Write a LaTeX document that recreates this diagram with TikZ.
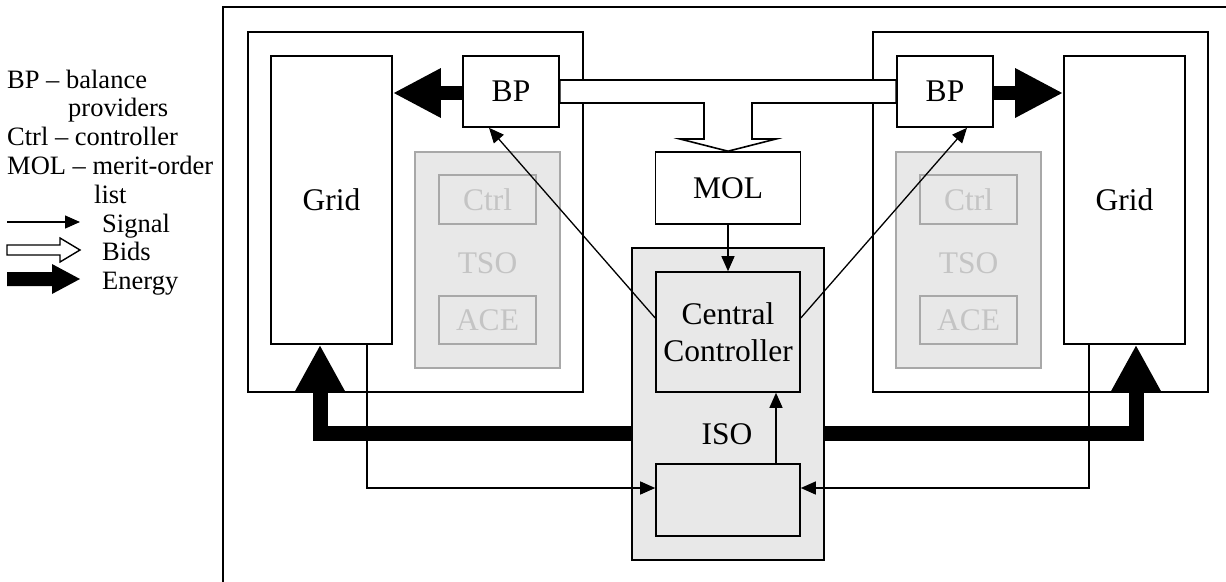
\documentclass[tikz,border=0pt]{standalone}
\usepackage{fontspec}
\setmainfont{Liberation Serif}
\usetikzlibrary{arrows.meta}
\definecolor{panel}{HTML}{E8E8E8}
\definecolor{faintline}{HTML}{A8A8A8}
\definecolor{fainttext}{HTML}{C4C4C4}
\newcommand\diagfont{\fontsize{31.5}{37}\selectfont}
\newcommand\legfont{\fontsize{26.5}{29}\selectfont}
\begin{document}
\begin{tikzpicture}[x=1pt,y=-1pt,
  blk/.style={draw, line width=1.6pt, fill=white, inner sep=0pt, font=\diagfont},
  frm/.style={draw, line width=1.8pt, fill=white, inner sep=0pt},
  isobox/.style={draw, line width=1.6pt, fill=panel, inner sep=0pt, font=\diagfont, align=center},
  gbox/.style={draw=faintline, line width=1.6pt, fill=panel, inner sep=0pt},
  gin/.style={draw=faintline, line width=1.6pt, fill=panel, inner sep=0pt, text=fainttext, font=\diagfont},
  gtxt/.style={text=fainttext, font=\diagfont, inner sep=0pt},
  lgd/.style={font=\legfont, inner sep=0pt, anchor=base west},
  sig/.style={line width=1.3pt, -{Triangle[length=15pt,width=13pt]}},
  bigflow/.style={line width=15pt, line join=miter, -{Triangle[length=47pt,width=47pt]}},
  bpflow/.style={line width=14pt, -{Triangle[length=48pt,width=46pt]}},
  bidshape/.style={draw, line width=1.6pt, fill=white, line join=miter}
]
\useasboundingbox (0,0) rectangle (1226,581);

% legend
\node[lgd] (lg1) at (7,88) {BP – balance};
\node[lgd] (lg2) at (68,116.8) {providers};
\node[lgd] (lg3) at (7,145.6) {Ctrl – controller};
\node[lgd] (lg4) at (7,174.4) {MOL – merit-order};
\node[lgd] (lg5) at (94,203.2) {list};
\node[lgd] (lgS) at (102,232) {Signal};
\node[lgd] (lgB) at (102,260.8) {Bids};
\node[lgd] (lgE) at (102,289.6) {Energy};
\coordinate (sigA) at (7,222);
\coordinate (sigB) at (80,222);
\draw[sig] (sigA) -- (sigB);
\draw[bidshape, line width=1.4pt] (7,245) -- (60,245) -- (60,238) -- (80,250) -- (60,262) -- (60,255) -- (7,255) -- cycle;
\fill (7,272) -- (52,272) -- (52,264) -- (80,279) -- (52,294) -- (52,286) -- (7,286) -- cycle;

% outer frame (cut by the page edge)
\draw[line width=1.8pt] (1240,7) -- (223,7) -- (223,600);

% TSO areas
\node[frm, minimum width=335pt, minimum height=360pt] (frameL) at (415.5,212) {};
\node[frm, minimum width=335pt, minimum height=360pt] (frameR) at (1040.5,212) {};

\node[gbox, minimum width=145pt, minimum height=216pt] (tsoL) at (487.5,260) {};
\node[gin, minimum width=97pt, minimum height=49pt] (ctrlL) at (487.5,199.5) {Ctrl};
\node[gin, minimum width=97pt, minimum height=48pt] (aceL) at (487.5,320) {ACE};
\node[gtxt] (tsoTxtL) at (487.5,263) {TSO};

\node[gbox, minimum width=145pt, minimum height=216pt] (tsoR) at (968.5,260) {};
\node[gin, minimum width=97pt, minimum height=49pt] (ctrlR) at (968.5,199.5) {Ctrl};
\node[gin, minimum width=97pt, minimum height=48pt] (aceR) at (968.5,320) {ACE};
\node[gtxt] (tsoTxtR) at (968.5,263) {TSO};

% grids and balance providers
\node[blk, minimum width=121pt, minimum height=288pt] (gridL) at (331.5,200) {Grid};
\node[blk, minimum width=121pt, minimum height=288pt] (gridR) at (1124.5,200) {Grid};
\node[blk, minimum width=96pt, minimum height=71pt] (bpL) at (511,91.5) {BP};
\node[blk, minimum width=96pt, minimum height=71pt] (bpR) at (945,91.5) {BP};

% merit-order list
\node[blk, minimum width=145pt, minimum height=72pt] (mol) at (728,188) {MOL};

% bids channel between the BPs feeding the MOL
\draw[bidshape] ([yshift=11.5pt]bpL.east) -- ([yshift=11.5pt]bpR.west)
  -- ([yshift=-11.5pt]bpR.west) -- (752,103) -- (752,139) -- (776,139)
  -- (mol.north) -- (680,139) -- (704,139) -- (704,103)
  -- ([yshift=-11.5pt]bpL.east) -- cycle;

% energy from BP to grid
\coordinate (eL) at ([yshift=-1.5pt]bpL.west);
\coordinate (eR) at ([yshift=-1.5pt]bpR.east);
\draw[bpflow] (eL) -- (eL -| gridL.east);
\draw[bpflow] (eR) -- (eR -| gridR.west);

% ISO block, energy to the grids runs underneath it
\draw[bigflow] (728,433.5) -| ([xshift=-11.5pt]gridL.south);
\draw[bigflow] (728,433.5) -| ([xshift=11.5pt]gridR.south);
\node[isobox, minimum width=192pt, minimum height=312pt] (iso) at (728,404) {};
\node[isobox, minimum width=144pt, minimum height=120pt] (cc) at (728,332) {Central\\Controller};
\node[isobox, minimum width=144pt, minimum height=72pt] (low) at (728,500) {};
\node[font=\diagfont, inner sep=0pt] (isoTxt) at (727,434) {ISO};

% signals
\draw[sig] (mol.south) -- (cc.north);
\draw[sig] ([xshift=48pt]low.north) -- ([xshift=48pt]cc.south);
\draw[sig] ([yshift=14pt]cc.west) -- ([xshift=-22pt]bpL.south);
\draw[sig] ([yshift=14pt]cc.east) -- ([xshift=22pt]bpR.south);
\draw[sig] ([xshift=35.5pt]gridL.south) |- ([yshift=12pt]low.west);
\draw[sig] ([xshift=-35.5pt]gridR.south) |- ([yshift=12pt]low.east);
\end{tikzpicture}
\end{document}
